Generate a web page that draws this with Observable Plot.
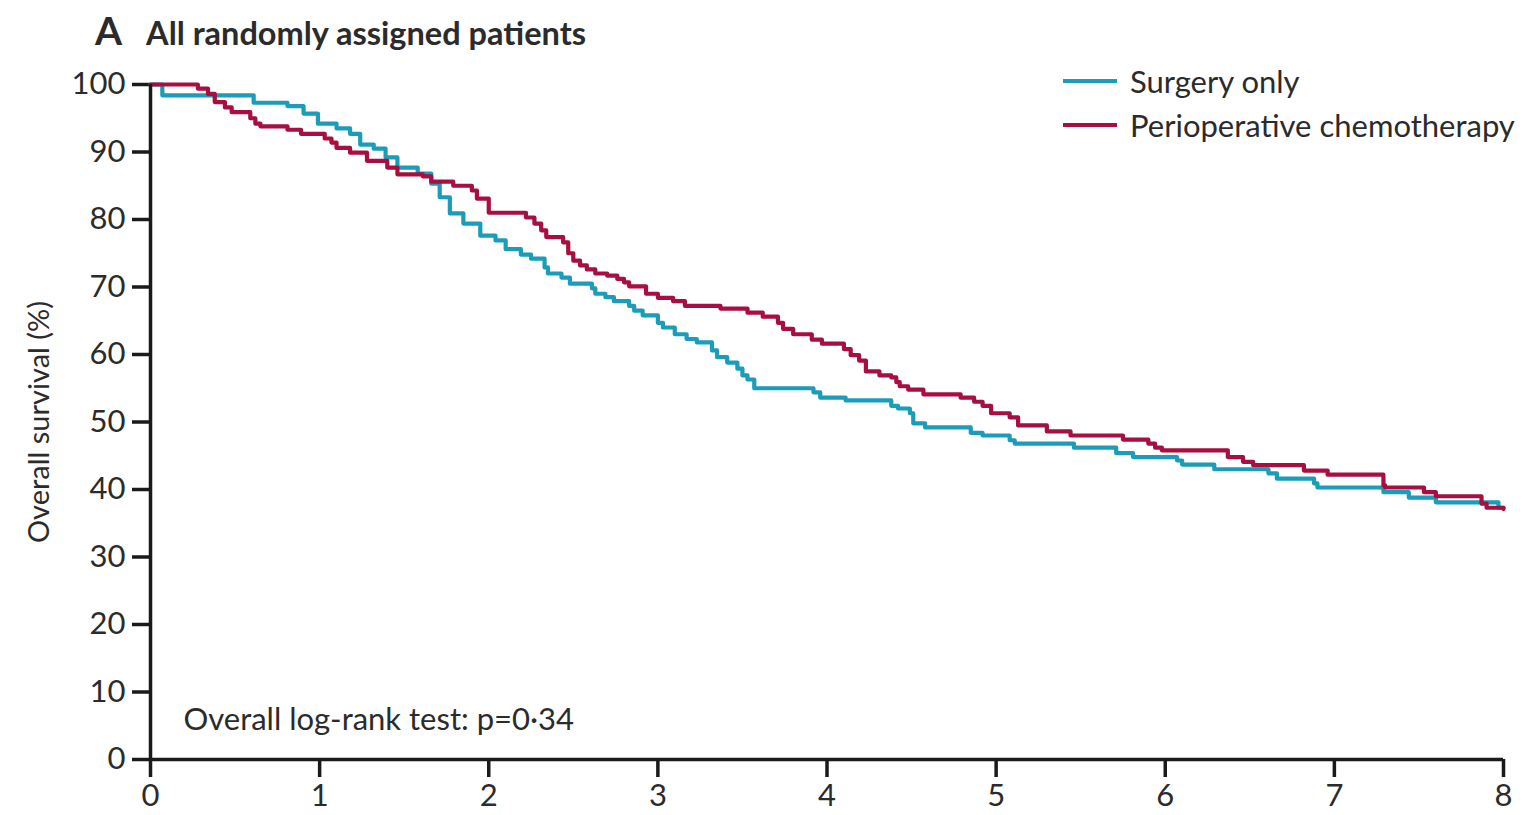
<!DOCTYPE html>
<html>
<head>
<meta charset="utf-8">
<script src="https://cdn.jsdelivr.net/npm/d3@7"></script>
<script src="https://cdn.jsdelivr.net/npm/@observablehq/plot@0.6"></script>
<style>
  html, body { margin: 0; padding: 0; background: #fff; }
  #wrap { position: relative; width: 1528px; height: 815px; font-family: Lato, "Open Sans", sans-serif; color: #2b2b2b; }
  #title { position: absolute; left: 95px; top: 7px; white-space: nowrap; font-weight: 700; }
  #title .letter { font-size: 39px; margin-right: 24px; }
  #title .text { font-size: 32.5px; }
  #legend { position: absolute; left: 1063px; top: 59px; }
  .lg { display: flex; align-items: center; height: 44px; font-size: 31px; white-space: nowrap; }
  .lg .sw { width: 54px; height: 4px; margin-right: 13px; }
  #chart { position: absolute; left: 0; top: 0; }
</style>
</head>
<body>
<div id="wrap">
  <div id="chart"></div>
  <div id="title"><span class="letter">A</span><span class="text">All randomly assigned patients</span></div>
  <div id="legend"></div>
</div>
<script>
const seriesNames = ["Surgery only", "Perioperative chemotherapy"];
const seriesColors = ["#1b9cb9", "#a60f40"];
const xTicks = [0, 1, 2, 3, 4, 5, 6, 7, 8];
const yTicks = [0, 10, 20, 30, 40, 50, 60, 70, 80, 90, 100];
const annotation = "Overall log-rank test: p=0·34";

// [years, overall survival %]
const surgeryOnly = [
  [0,100],[0.07,98.4],[0.61,97.3],[0.81,96.8],[0.905,95.7],[0.99,94.2],[1.1,93.5],[1.18,92.7],
  [1.24,91.1],[1.32,90.5],[1.39,89.2],[1.46,87.7],[1.58,86.8],[1.66,85.3],[1.71,83.3],[1.77,80.9],
  [1.85,79.4],[1.95,77.6],[2.04,76.9],[2.10,75.6],[2.19,74.8],[2.25,74.2],[2.33,72.9],[2.35,72.0],
  [2.43,71.4],[2.48,70.5],[2.61,69.8],[2.63,69.0],[2.69,68.5],[2.74,67.9],[2.83,67.2],[2.86,66.5],
  [2.91,65.8],[3.0,64.7],[3.03,64.0],[3.10,63.0],[3.17,62.3],[3.23,61.8],[3.32,60.6],[3.35,59.6],
  [3.41,58.8],[3.47,57.9],[3.50,56.9],[3.53,56.3],[3.57,55.0],[3.92,54.4],[3.96,53.6],[4.11,53.2],
  [4.38,52.4],[4.42,52.0],[4.49,51.3],[4.51,49.8],[4.58,49.2],[4.85,48.4],[4.92,48.0],[5.08,47.3],
  [5.11,46.8],[5.46,46.2],[5.71,45.4],[5.81,44.8],[6.07,44.3],[6.10,43.7],[6.29,43.0],[6.61,42.4],
  [6.66,41.6],[6.88,40.9],[6.90,40.3],[7.29,39.6],[7.44,38.8],[7.60,38.1],[7.97,37.3],[8.0,37.3]
];
const perioperative = [
  [0,100],[0.28,99.4],[0.34,98.6],[0.38,97.4],[0.44,96.6],[0.48,95.9],[0.59,95.0],[0.62,94.2],
  [0.65,93.8],[0.81,93.3],[0.89,92.7],[1.03,92.0],[1.07,91.4],[1.10,90.6],[1.18,89.9],[1.28,88.7],
  [1.40,87.7],[1.46,86.7],[1.61,86.4],[1.66,85.6],[1.79,85.0],[1.90,84.3],[1.93,83.1],[2.0,81.0],
  [2.22,80.3],[2.27,79.4],[2.31,78.4],[2.34,77.4],[2.44,76.6],[2.47,75.0],[2.50,73.9],[2.54,73.2],
  [2.58,72.6],[2.63,72.0],[2.70,71.7],[2.76,71.2],[2.80,70.7],[2.83,70.1],[2.93,69.0],[3.0,68.4],
  [3.09,67.9],[3.16,67.2],[3.37,66.8],[3.53,66.2],[3.62,65.6],[3.71,64.7],[3.74,63.8],[3.80,63.0],
  [3.91,62.2],[3.97,61.6],[4.10,60.8],[4.14,59.9],[4.19,59.1],[4.23,57.5],[4.31,56.9],[4.38,56.6],
  [4.41,55.9],[4.43,55.3],[4.48,54.8],[4.57,54.1],[4.79,53.6],[4.87,53.0],[4.92,52.4],[4.97,51.3],
  [5.08,50.7],[5.13,49.5],[5.30,48.6],[5.44,48.0],[5.75,47.4],[5.90,46.8],[5.94,46.2],[5.98,45.8],
  [6.37,44.8],[6.46,44.1],[6.52,43.6],[6.82,42.8],[6.96,42.2],[7.29,40.6],[7.30,40.3],[7.53,39.6],
  [7.60,39.0],[7.87,37.9],[7.90,37.3],[8.0,37.1]
];

const rows = [
  ...surgeryOnly.map(([t, s]) => ({t, s, group: seriesNames[0]})),
  ...perioperative.map(([t, s]) => ({t, s, group: seriesNames[1]}))
];

const chart = Plot.plot({
  width: 1528,
  height: 815,
  marginLeft: 150,
  marginRight: 25,
  marginTop: 84,
  marginBottom: 56,
  style: {fontFamily: "Lato, 'Open Sans', sans-serif", color: "#2b2b2b", background: "transparent"},
  x: {domain: [0, 8]},
  y: {domain: [0, 100]},
  color: {domain: seriesNames, range: seriesColors},
  marks: [
    Plot.axisX({ticks: xTicks, tickSize: 18, tickPadding: 6, fontSize: 31, strokeWidth: 3.5, stroke: "#1a1a1a", label: null}),
    Plot.axisY({ticks: yTicks, tickSize: 18, tickPadding: 7, fontSize: 31, strokeWidth: 3.5, stroke: "#1a1a1a", label: null}),
    Plot.axisY({ticks: [], tickSize: 0, fontSize: 29, label: "Overall survival (%)", labelAnchor: "center", labelOffset: 122, labelArrow: "none"}),
    Plot.line(rows, {x: "t", y: "s", z: "group", stroke: "group", curve: "step-after", strokeWidth: 4.2}),
    Plot.ruleX([0], {stroke: "#1a1a1a", strokeWidth: 3.5}),
    Plot.ruleY([0], {stroke: "#1a1a1a", strokeWidth: 3.5}),
    Plot.text([annotation], {x: 0.195, y: 5.8, text: d => d, textAnchor: "start", fontSize: 31, fill: "#2b2b2b"})
  ]
});
document.getElementById("chart").appendChild(chart);

const legend = document.getElementById("legend");
seriesNames.forEach((name, i) => {
  const row = document.createElement("div");
  row.className = "lg";
  const sw = document.createElement("span");
  sw.className = "sw";
  sw.style.background = seriesColors[i];
  const tx = document.createElement("span");
  tx.textContent = name;
  row.appendChild(sw);
  row.appendChild(tx);
  legend.appendChild(row);
});
</script>
</body>
</html>
